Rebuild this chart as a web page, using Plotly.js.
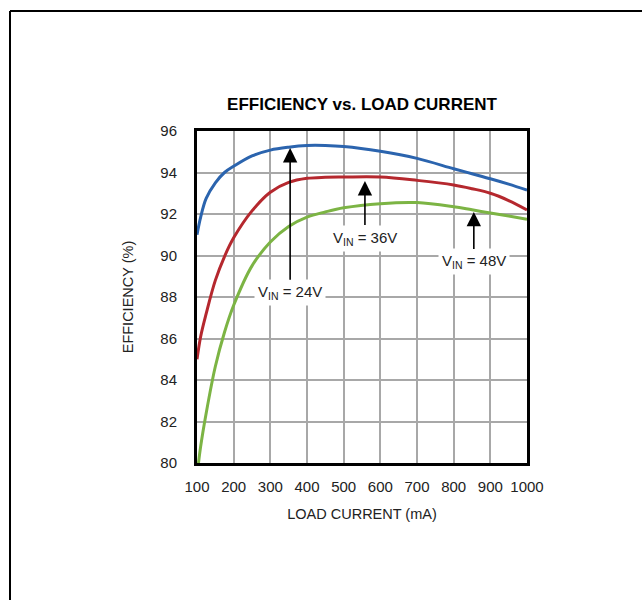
<!DOCTYPE html>
<html>
<head>
<meta charset="utf-8">
<script src="https://cdn.plot.ly/plotly-3.0.1.min.js"></script>
<style>
html,body{margin:0;padding:0;background:#fff;}
#chart{width:642px;height:600px;}
</style>
</head>
<body>
<div id="chart"></div>
<script>
// Load current (mA)
const loadCurrent = [100, 110, 125, 150, 175, 200, 250, 300, 350, 400, 450, 500, 600, 700, 800, 850, 900, 950, 1000];
// Efficiency (%) per input voltage
const eff24V = [91.0, 91.85, 92.75, 93.5, 94.0, 94.3, 94.8, 95.08, 95.22, 95.3, 95.3, 95.25, 95.02, 94.68, 94.18, 93.94, 93.7, 93.44, 93.15];
const eff36V = [85.0, 86.1, 87.2, 88.8, 89.95, 90.85, 92.15, 93.05, 93.52, 93.72, 93.77, 93.78, 93.78, 93.62, 93.4, 93.22, 93.0, 92.65, 92.2];
const eff48V = [79.4, 80.8, 82.4, 84.65, 86.3, 87.6, 89.5, 90.65, 91.4, 91.85, 92.1, 92.3, 92.5, 92.55, 92.35, 92.2, 92.05, 91.9, 91.75];

const seriesNames = ["V<sub>IN</sub> = 24V", "V<sub>IN</sub> = 36V", "V<sub>IN</sub> = 48V"];
const seriesColors = ["#2b64ae", "#b5282e", "#7cb444"];

// Label annotations: arrow x (mA), arrow tip (%), label centre (%)
const labelX = [354, 558, 855];
const labelTip = [95.18, 93.59, 92.1];
const labelPos = [88.2, 90.84, 89.69];

const xTicks = [100, 200, 300, 400, 500, 600, 700, 800, 900, 1000];
const yTicks = [80, 82, 84, 86, 88, 90, 92, 94, 96];

const FONT = '"Liberation Sans Narrow", "Arial Narrow", "Liberation Sans", Arial, sans-serif';
const allSeries = [eff24V, eff36V, eff48V];

const traces = allSeries.map((ys, i) => ({
  x: loadCurrent,
  y: ys,
  type: 'scatter',
  mode: 'lines',
  name: seriesNames[i],
  line: {color: seriesColors[i], width: 3, shape: 'spline', smoothing: 1},
  hoverinfo: 'skip'
}));

const annotations = labelX.map((x, i) => ({
  x: x, y: labelTip[i], xref: 'x', yref: 'y',
  ax: x, ay: labelPos[i], axref: 'x', ayref: 'y',
  text: seriesNames[i],
  showarrow: true,
  arrowhead: 2, arrowsize: 1.8, arrowwidth: 1.6, arrowcolor: '#000',
  standoff: 0,
  bgcolor: '#ffffff', borderpad: 3,
  font: {family: FONT, size: 15, color: '#222'}
}));

// outer frame (left and top edges)
const fx = (10 - 197) / 330;
const fy = (463 - 11) / 332;
const shapes = [
  {type: 'line', xref: 'paper', yref: 'paper', x0: fx, x1: fx, y0: -0.6, y1: fy, line: {color: '#000', width: 2}},
  {type: 'line', xref: 'paper', yref: 'paper', x0: fx, x1: 1.6, y0: fy, y1: fy, line: {color: '#000', width: 2}}
];

const layout = {
  width: 642, height: 600,
  margin: {l: 197, r: 115, t: 131, b: 137},
  paper_bgcolor: '#fff', plot_bgcolor: '#fff',
  showlegend: false,
  title: {
    text: '<b>EFFICIENCY vs. LOAD CURRENT</b>',
    font: {family: FONT, size: 17, color: '#000'},
    xref: 'paper', x: 0.5, xanchor: 'center',
    yref: 'container', y: 1 - 104 / 600, yanchor: 'middle'
  },
  xaxis: {
    range: [100, 1000],
    tickvals: xTicks, ticktext: xTicks.map(String),
    showgrid: true, gridcolor: '#a8a8a8', gridwidth: 2,
    zeroline: false,
    showline: true, linecolor: '#000', linewidth: 3, mirror: true,
    ticks: '', ticklabelstandoff: 8,
    tickfont: {family: FONT, size: 15, color: '#222'},
    title: {text: 'LOAD CURRENT (mA)', font: {family: FONT, size: 14.5, color: '#222'}, standoff: 15}
  },
  yaxis: {
    range: [80, 96],
    tickvals: yTicks, ticktext: yTicks.map(String),
    showgrid: true, gridcolor: '#a8a8a8', gridwidth: 2,
    zeroline: false,
    showline: true, linecolor: '#000', linewidth: 3, mirror: true,
    ticks: '', ticklabelstandoff: 14,
    tickfont: {family: FONT, size: 15, color: '#222'},
    title: {text: 'EFFICIENCY (%)', font: {family: FONT, size: 14.5, color: '#222'}, standoff: 24}
  },
  annotations: annotations,
  shapes: shapes
};

Plotly.newPlot('chart', traces, layout, {displayModeBar: false, staticPlot: true});
</script>
</body>
</html>
